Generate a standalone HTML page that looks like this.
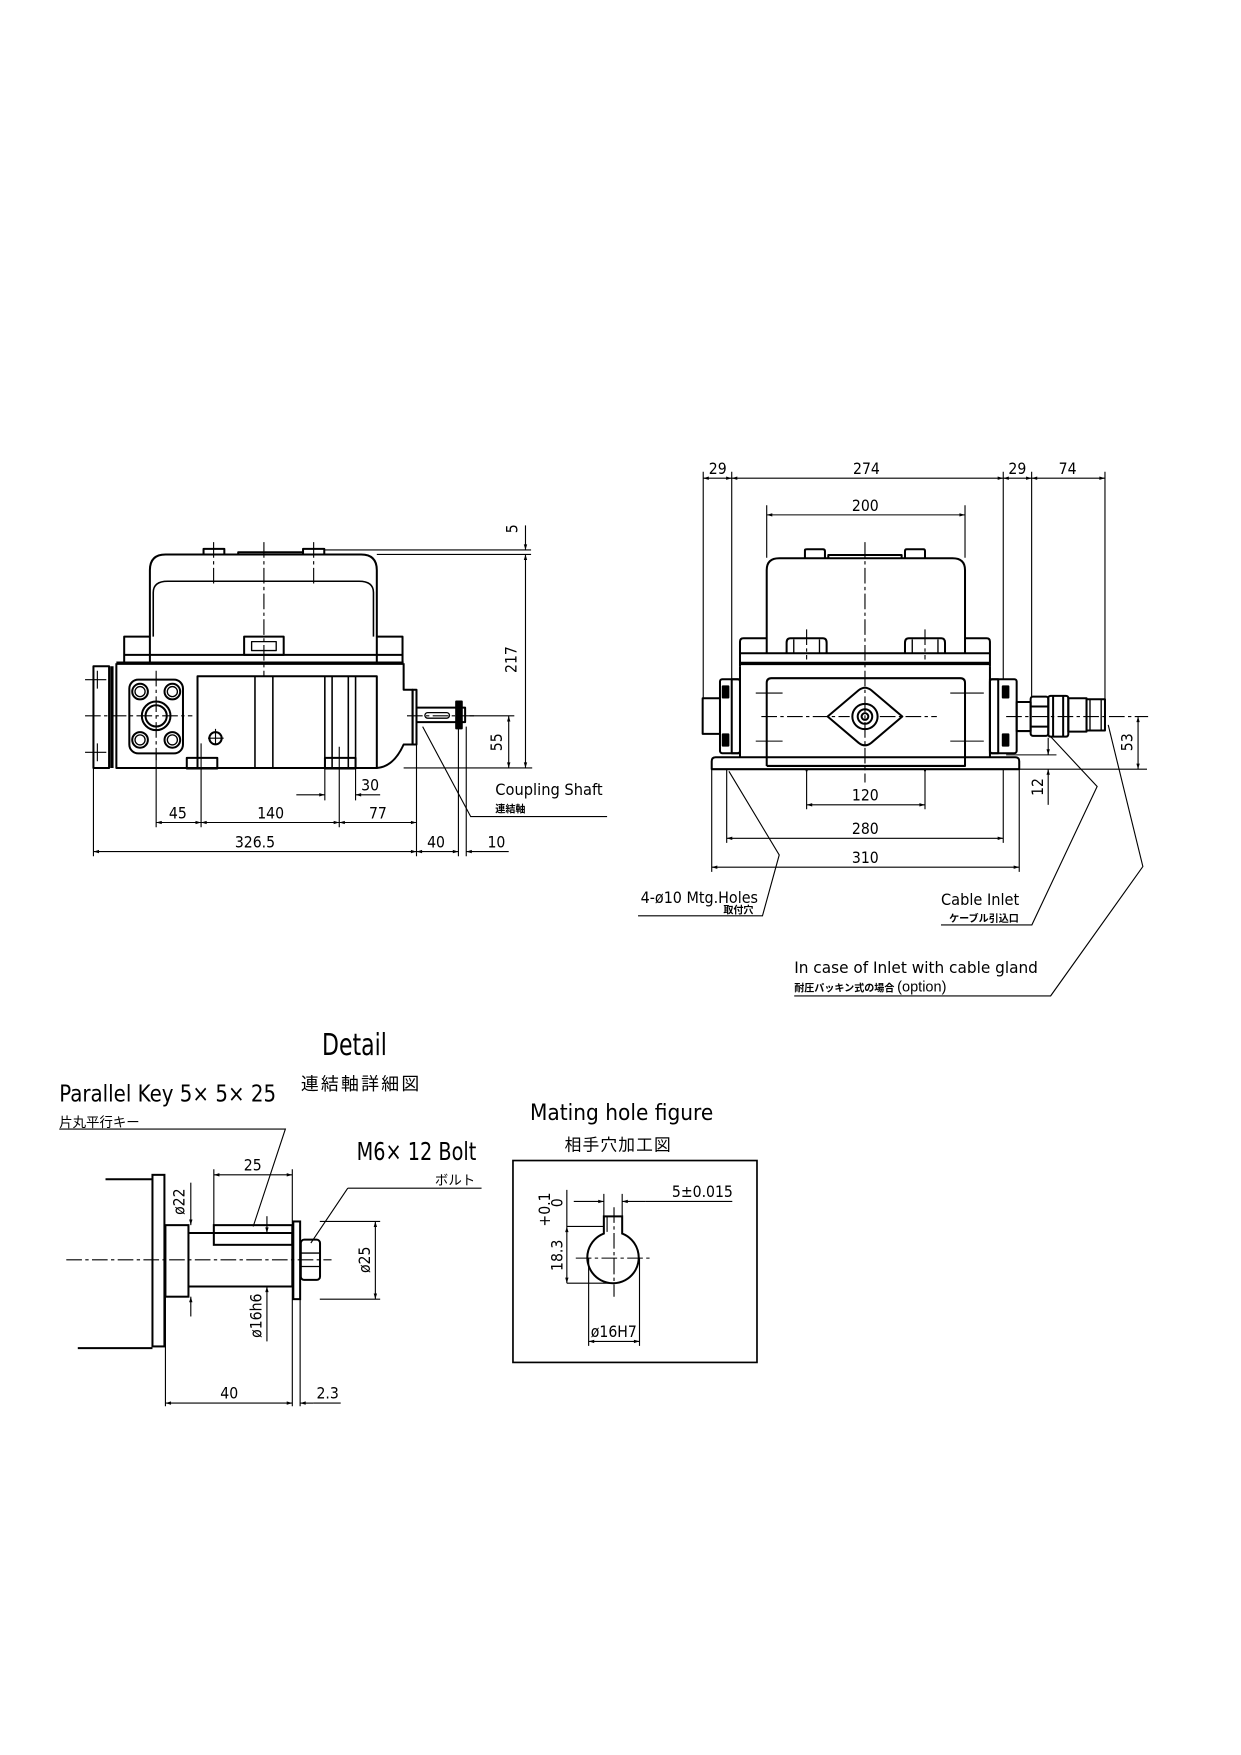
<!DOCTYPE html>
<html><head><meta charset="utf-8">
<style>
html,body{margin:0;padding:0;background:#fff;}
svg{display:block;}
text{font-family:"Liberation Sans Narrow","DejaVu Sans Condensed","Liberation Sans","Noto Sans CJK JP",sans-serif;fill:#000;}
.j{font-family:"Liberation Sans","Noto Sans CJK JP",sans-serif;}
</style></head><body>
<svg width="1241" height="1755" viewBox="0 0 1110 1570" xmlns="http://www.w3.org/2000/svg">
<defs>
<marker id="a" viewBox="0 0 10 10" refX="10" refY="5" markerWidth="7" markerHeight="5" orient="auto-start-reverse" markerUnits="userSpaceOnUse">
<path d="M0,2 L10,5 L0,8 z" fill="#000"/></marker>
</defs>
<g fill="none" stroke="#000" stroke-width="1.8" stroke-linejoin="round">
<path d="M134 569.5 L134 510 Q134 496 148 496 L323 496 Q337 496 337 510 L337 569.5"/>
<path d="M137 569.5 L137 530 Q137 520 150 520 L321 520 Q334 520 334 530 L334 569.5" stroke-width="1.4"/>
<path d="M182 496 L182 491 L200.6 491 L200.6 496 M271 496 L271 491 L290 491 L290 496 M213 496 L213 494 L271 494"/>
<rect x="111" y="569.5" width="23" height="24"/>
<rect x="337" y="569.5" width="23" height="24"/>
<line x1="111" y1="585.8" x2="360" y2="585.8"/>
<line x1="104" y1="593.3" x2="361" y2="593.3" stroke-width="3"/>
<rect x="218.3" y="569.5" width="35.4" height="16.3"/>
<rect x="225" y="574" width="22" height="8" stroke-width="1.2"/>
<path d="M104 593.3 L104 687 L337 687 Q352 686 361 666 L369 666 L369 617 L361 617 L361 593.3"/>
<rect x="369" y="617" width="3.5" height="49"/>
<rect x="83.5" y="596" width="14" height="91"/>
<line x1="100" y1="596" x2="100" y2="687" stroke-width="3"/>
<rect x="176.6" y="605" width="160.4" height="82"/>
<path d="M228 605V687 M244 605V687 M290.5 605V687 M297 605V687 M311.5 605V687 M318 605V687" stroke-width="1.4"/>
<rect x="115.6" y="608" width="48" height="66" rx="8"/>
<circle cx="139.6" cy="640.4" r="12.8"/>
<circle cx="139.6" cy="640.4" r="9.5"/>
<circle cx="125.2" cy="618.7" r="7"/><circle cx="125.2" cy="618.7" r="4.5" stroke-width="1.2"/>
<circle cx="154.1" cy="618.7" r="7"/><circle cx="154.1" cy="618.7" r="4.5" stroke-width="1.2"/>
<circle cx="125.2" cy="661.9" r="7"/><circle cx="125.2" cy="661.9" r="4.5" stroke-width="1.2"/>
<circle cx="154.1" cy="661.9" r="7"/><circle cx="154.1" cy="661.9" r="4.5" stroke-width="1.2"/>
<circle cx="192.7" cy="660.4" r="5.5"/>
<rect x="167" y="678" width="27.3" height="9.5"/>
<rect x="290.6" y="678" width="27.4" height="9.5"/>
<rect x="372.5" y="633" width="43.5" height="13"/>
<rect x="380" y="637.5" width="22" height="5" rx="2.5" stroke-width="1.2"/>
<rect x="408" y="627.6" width="5" height="24" fill="#000"/>
</g>
<g fill="none" stroke="#000" stroke-width="1">
<path d="M236 485V605 M191 485V525 M280.5 485V525" stroke-dasharray="14,3,3,3"/>
<path d="M76 640.4H172 M139.6 600V680 M186 660.4H200 M192.7 652V668 M364 640.4H425" stroke-dasharray="14,3,3,3"/>
<path d="M76 608H95 M76 673H95 M87 600V616 M87 665V681"/>
<path d="M290 492H475 M337 496H475"/>
<line x1="470" y1="470" x2="470" y2="492" marker-end="url(#a)"/>
<line x1="470" y1="496" x2="470" y2="687" marker-start="url(#a)" marker-end="url(#a)"/>
<path d="M361 687H476 M420 640.4H460"/>
<line x1="455" y1="640.4" x2="455" y2="687" marker-start="url(#a)" marker-end="url(#a)"/>
<path d="M290.5 687V716 M318 687V716"/>
<line x1="265" y1="711" x2="290.5" y2="711" marker-end="url(#a)"/>
<line x1="340" y1="711" x2="318" y2="711" marker-end="url(#a)"/>
<path d="M139.6 674V740 M179.8 665V740 M303.4 668V740 M83.5 687V766 M372.5 666V766 M410 652V766 M417 650V766"/>
<line x1="139.6" y1="735.8" x2="179.8" y2="735.8" marker-start="url(#a)" marker-end="url(#a)"/>
<line x1="179.8" y1="735.8" x2="303.4" y2="735.8" marker-start="url(#a)" marker-end="url(#a)"/>
<line x1="303.4" y1="735.8" x2="372.5" y2="735.8" marker-start="url(#a)" marker-end="url(#a)"/>
<line x1="83.5" y1="761.8" x2="372.5" y2="761.8" marker-start="url(#a)" marker-end="url(#a)"/>
<line x1="372.5" y1="761.8" x2="410" y2="761.8" marker-start="url(#a)" marker-end="url(#a)"/>
<line x1="432" y1="761.8" x2="417" y2="761.8" marker-end="url(#a)"/>
<path d="M432 761.8H455"/>
<path d="M378 650L421 730.5H543"/>
</g>
<g font-size="14">
<text x="458" y="473" transform="rotate(-90 458 473)" text-anchor="middle" dy="5">5</text>
<text x="462" y="590" transform="rotate(-90 462 590)" text-anchor="middle">217</text>
<text x="449" y="664" transform="rotate(-90 449 664)" text-anchor="middle">55</text>
<text x="331" y="707" text-anchor="middle">30</text>
<text x="159" y="732" text-anchor="middle">45</text>
<text x="242" y="732" text-anchor="middle">140</text>
<text x="338" y="732" text-anchor="middle">77</text>
<text x="228" y="758" text-anchor="middle">326.5</text>
<text x="390" y="758" text-anchor="middle">40</text>
<text x="444" y="758" text-anchor="middle">10</text>
<text x="443" y="711" textLength="96" lengthAdjust="spacingAndGlyphs">Coupling Shaft</text>
</g>
<text class="j" x="443" y="727" font-size="9" font-weight="bold">連結軸</text>

<g fill="none" stroke="#000" stroke-width="1.8" stroke-linejoin="round">
<path d="M685.8 584.4 L685.8 510 Q685.8 499.4 697 499.4 L852 499.4 Q863.2 499.4 863.2 510 L863.2 584.4"/>
<path d="M720 499.4V492 Q720 491.4 722 491.4 L736 491.4 Q737.9 491.4 737.9 493 V499.4 M809.5 499.4V493 Q809.5 491.4 811 491.4 L826 491.4 Q827.4 491.4 827.4 493 V499.4 M740.9 499.4 V496.5 H806.5 V499.4"/>
<path d="M661.9 596.3 V574 Q661.9 571 665 571 H685.8 M863.2 571 H882.5 Q885.5 571 885.5 574 V596.3"/>
<line x1="661.9" y1="584.4" x2="885.5" y2="584.4"/>
<line x1="661.9" y1="593.5" x2="885.5" y2="593.5" stroke-width="3"/>
<path d="M703.6 584.4 V575 Q703.6 571 707 571 H736 Q739.4 571 739.4 575 V584.4 M809.5 584.4 V575 Q809.5 571 813 571 H842 Q845.3 571 845.3 575 V584.4"/>
<path d="M710 584.4V572 M733 584.4V572 M816 584.4V572 M839 584.4V572" stroke-width="1.2"/>
<path d="M661.9 596.3 V677.4 M885.5 596.3 V677.4"/>
<path d="M685.8 685.2 V611 Q685.8 606.7 690 606.7 H859 Q863.2 606.7 863.2 611 V685.2 H685.8"/>
<path d="M640 677.4 Q636.6 677.4 636.6 681 V688.1 H911.7 V681 Q911.7 677.4 908 677.4 Z"/>
<path d="M721.5 688.1 V690 M827.4 688.1 V690"/>
<path d="M740.3 641 L768 617.5 Q773.7 613 779.4 617.5 L807.1 641 L779.4 664.5 Q773.7 669 768 664.5 Z"/>
<circle cx="773.7" cy="641" r="11.3"/><circle cx="773.7" cy="641" r="6.5"/><circle cx="773.7" cy="641" r="3"/>
<rect x="644" y="607.6" width="17.9" height="66.2" rx="2"/>
<rect x="654.5" y="607.6" width="7.4" height="66.2"/>
<rect x="628.5" y="624.6" width="15.5" height="31.9"/>
<rect x="646.5" y="614" width="5" height="10" fill="#000"/><rect x="646.5" y="657" width="5" height="10" fill="#000"/>
<rect x="885.5" y="607.6" width="23.9" height="66.2" rx="2"/>
<rect x="885.5" y="607.6" width="7.4" height="66.2"/>
<rect x="897" y="614" width="5" height="10" fill="#000"/><rect x="897" y="657" width="5" height="10" fill="#000"/>
<rect x="909.4" y="628" width="12.5" height="26"/>
<rect x="921.9" y="623.2" width="15.8" height="35.1" rx="2"/>
<path d="M921.9 632H937.7 M921.9 650H937.7"/>
<rect x="937.7" y="622.5" width="17.9" height="36.5" rx="2"/>
<path d="M942 622.5V659 M951 622.5V659"/>
<rect x="955.6" y="624.6" width="16.3" height="29.9"/>
<rect x="971.9" y="625.5" width="16.5" height="28"/>
<path d="M975 625.5V653.5 M985 625.5V653.5" stroke-width="1.2"/>
</g>
<g fill="none" stroke="#000" stroke-width="1">
<path d="M773.7 485V700 M681 641H760 M787 641H838 M900 641H1027 M721.5 563V590 M827.4 563V590" stroke-dasharray="14,3,3,3"/>
<path d="M676 620H700 M676 663H700 M850 620H880 M850 663H880"/>
<path d="M629 422V625 M654.5 422V607 M897.4 422V607 M922.8 422V623 M988.4 422V641 M685.8 452V499 M863.2 452V499"/>
<line x1="629" y1="427.8" x2="654.5" y2="427.8" marker-start="url(#a)" marker-end="url(#a)"/>
<line x1="654.5" y1="427.8" x2="897.4" y2="427.8" marker-start="url(#a)" marker-end="url(#a)"/>
<line x1="897.4" y1="427.8" x2="922.8" y2="427.8" marker-start="url(#a)" marker-end="url(#a)"/>
<line x1="922.8" y1="427.8" x2="988.4" y2="427.8" marker-start="url(#a)" marker-end="url(#a)"/>
<line x1="685.8" y1="460.6" x2="863.2" y2="460.6" marker-start="url(#a)" marker-end="url(#a)"/>
<path d="M721.5 688V724 M827.4 688V724 M650 688V754 M897.4 688V754 M636.6 688V780 M911.7 688V780"/>
<line x1="721.5" y1="720" x2="827.4" y2="720" marker-start="url(#a)" marker-end="url(#a)"/>
<line x1="650" y1="749.9" x2="897.4" y2="749.9" marker-start="url(#a)" marker-end="url(#a)"/>
<line x1="636.6" y1="775.8" x2="911.7" y2="775.8" marker-start="url(#a)" marker-end="url(#a)"/>
<path d="M911.7 688.1H1026 M900 675.3H945"/>
<line x1="937.6" y1="660" x2="937.6" y2="675.3" marker-end="url(#a)"/>
<line x1="937.6" y1="720" x2="937.6" y2="688.1" marker-end="url(#a)"/>
<line x1="1018" y1="641" x2="1018" y2="688.1" marker-start="url(#a)" marker-end="url(#a)"/>
<path d="M652 690 L697 764.8 L682 819.3 H570.7"/>
<path d="M939.8 659 L981.4 703.6 L923 827.4 H841.7"/>
<path d="M991.3 648.5 L1022.3 775.2 L939.8 890.9 H710.4"/>
</g>
<g font-size="14">
<text x="642" y="424" text-anchor="middle">29</text>
<text x="775" y="424" text-anchor="middle">274</text>
<text x="910" y="424" text-anchor="middle">29</text>
<text x="955" y="424" text-anchor="middle">74</text>
<text x="774" y="457" text-anchor="middle">200</text>
<text x="774" y="716" text-anchor="middle">120</text>
<text x="774" y="746" text-anchor="middle">280</text>
<text x="774" y="772" text-anchor="middle">310</text>
<text x="933" y="704" transform="rotate(-90 933 704)" text-anchor="middle">12</text>
<text x="1013" y="664" transform="rotate(-90 1013 664)" text-anchor="middle">53</text>
<text x="573" y="808" textLength="105" lengthAdjust="spacingAndGlyphs">4-ø10 Mtg.Holes</text>
<text x="841.7" y="809.5" textLength="70" lengthAdjust="spacingAndGlyphs">Cable Inlet</text>
<text x="710.4" y="870.6" textLength="218" lengthAdjust="spacingAndGlyphs">In case of Inlet with cable gland</text>
</g>
<text class="j" x="647" y="817" font-size="9" font-weight="bold">取付穴</text>
<text class="j" x="849" y="825" font-size="9" font-weight="bold">ケーブル引込口</text>
<text class="j" x="710.4" y="887" font-size="9" font-weight="bold">耐圧パッキン式の場合 <tspan font-size="13" font-weight="normal">(option)</tspan></text>

<text x="288" y="943.6" font-size="27" textLength="58" lengthAdjust="spacingAndGlyphs">Detail</text>
<text class="j" x="323" y="975" font-size="16" text-anchor="middle" letter-spacing="2">連結軸詳細図</text>
<text x="52.9" y="985.4" font-size="21" textLength="194" lengthAdjust="spacingAndGlyphs">Parallel Key 5× 5× 25</text>
<text class="j" x="52.9" y="1008" font-size="12">片丸平行キー</text>
<text x="319" y="1037.6" font-size="22" textLength="107" lengthAdjust="spacingAndGlyphs">M6× 12 Bolt</text>
<text class="j" x="389" y="1060" font-size="12">ボルト</text>
<text x="474" y="1001.8" font-size="20" textLength="164" lengthAdjust="spacingAndGlyphs">Mating hole figure</text>
<text class="j" x="553" y="1029" font-size="15" text-anchor="middle" letter-spacing="1">相手穴加工図</text>
<g fill="none" stroke="#000" stroke-width="1.8">
<path d="M94.3 1054.9H136.3 M69.5 1206H136.3"/>
<rect x="136.3" y="1051" width="10.7" height="153.5"/>
<rect x="147.9" y="1096" width="20.6" height="64"/>
<path d="M168.5 1103H261.4 V1150.9 H168.5"/>
<rect x="191.2" y="1096" width="70.2" height="17.6"/>
<rect x="262.3" y="1092.7" width="6.1" height="69.5"/>
<rect x="269" y="1109" width="17.2" height="36" rx="3"/>
<path d="M269 1121H286 M269 1133H286" stroke-width="1.2"/>
<rect x="458.8" y="1038.2" width="218.3" height="180.6" stroke-width="1.5"/>
<path d="M540.1 1088.2 V1103.5 A23 23 0 1 0 556.5 1103.5 V1088.2 Z"/>
</g>
<g fill="none" stroke="#000" stroke-width="1">
<path d="M59.2 1127H296.5 M515 1125.5H581.4 M549.2 1080V1160 M543 1088V1103" stroke-dasharray="14,3,3,3"/>
<path d="M52.9 1010H255.2 L226.4 1097.2 M311 1062.9H430.7 M311 1062.9 L278 1112"/>
<path d="M147.9 1160V1258 M261.4 1046V1258 M268.4 1162V1258 M191.2 1046V1096 M286 1092.7H340 M286 1162.2H340"/>
<line x1="191.2" y1="1051" x2="261.4" y2="1051" marker-start="url(#a)" marker-end="url(#a)"/>
<line x1="335.7" y1="1092.7" x2="335.7" y2="1162.2" marker-start="url(#a)" marker-end="url(#a)"/>
<line x1="170.6" y1="1058" x2="170.6" y2="1096" marker-end="url(#a)"/>
<line x1="170.6" y1="1177.7" x2="170.6" y2="1160" marker-end="url(#a)"/>
<line x1="238.7" y1="1088" x2="238.7" y2="1103" marker-end="url(#a)"/>
<line x1="238.7" y1="1200" x2="238.7" y2="1150.9" marker-end="url(#a)"/>
<line x1="147.9" y1="1255.2" x2="261.4" y2="1255.2" marker-start="url(#a)" marker-end="url(#a)"/>
<line x1="280" y1="1255.2" x2="268.4" y2="1255.2" marker-end="url(#a)"/>
<path d="M280 1255.2H304.7"/>
<path d="M540.1 1068V1088 M556.5 1068V1088 M507 1097.2H540 M507 1147.9H549 M526.5 1125V1204 M572 1125V1204 M507 1064.4V1097.2"/>
<line x1="513.2" y1="1074.8" x2="540.1" y2="1074.8" marker-end="url(#a)"/>
<line x1="577" y1="1074.8" x2="556.5" y2="1074.8" marker-end="url(#a)"/>
<path d="M577 1074.8H655"/>
<line x1="507" y1="1097.2" x2="507" y2="1147.9" marker-start="url(#a)" marker-end="url(#a)"/>
<line x1="526.5" y1="1200" x2="572" y2="1200" marker-start="url(#a)" marker-end="url(#a)"/>
</g>
<g font-size="14">
<text x="226" y="1047" text-anchor="middle">25</text>
<text x="165" y="1075" transform="rotate(-90 165 1075)" text-anchor="middle">ø22</text>
<text x="331" y="1127" transform="rotate(-90 331 1127)" text-anchor="middle">ø25</text>
<text x="234" y="1177" transform="rotate(-90 234 1177)" text-anchor="middle">ø16h6</text>
<text x="205" y="1251" text-anchor="middle">40</text>
<text x="293" y="1251" text-anchor="middle">2.3</text>
<text x="601" y="1071">5±0.015</text>
<text x="503" y="1123" transform="rotate(-90 503 1123)" text-anchor="middle">18.3</text>
<text x="492" y="1082" transform="rotate(-90 492 1082)" text-anchor="middle">+0.1</text>
<text x="503" y="1076" transform="rotate(-90 503 1076)" text-anchor="middle">0</text>
<text x="549" y="1196" text-anchor="middle">ø16H7</text>
</g>
</svg>
</body></html>
